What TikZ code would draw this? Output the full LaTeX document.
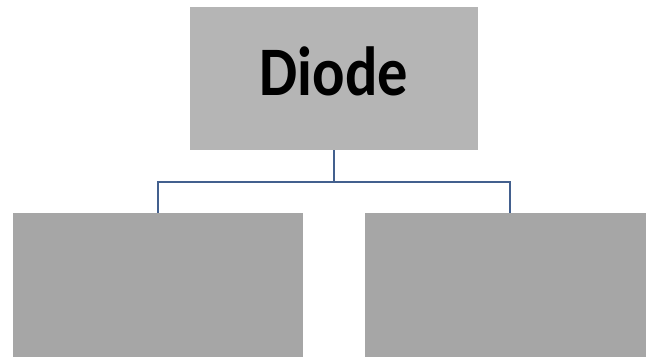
\documentclass[tikz,border=0pt]{standalone}
\usepackage{fontspec}
\setmainfont{Carlito}
\definecolor{topgray}{HTML}{B5B5B5}
\definecolor{subgray}{HTML}{A6A6A6}
\definecolor{linkblue}{HTML}{43608E}
\begin{document}
\begin{tikzpicture}[x=0.025cm,y=-0.025cm,
    box/.style={inner sep=0pt,minimum width=7.25cm,minimum height=3.75cm,fill=subgray},
    link/.style={draw=linkblue,line width=1.5pt}]
    \clip (0,0) rectangle (646,356);
    \fill[white] (0,0) rectangle (646,356);
    % top box and the two empty boxes below it
    \node[box,fill=topgray,minimum width=7.2cm,minimum height=3.575cm] (diode) at (334,78.5)
        {\raisebox{0.35cm}{\scalebox{1}[1.15]{\fontsize{43}{48}\selectfont\bfseries Diode}}};
    \node[box] (left) at (158,288) {};
    \node[box] (right) at (510,288) {};
    \draw[link] (diode.south) -- ++(0,32) coordinate (fork);
    \draw[link] (left.north) |- (fork) -| (right.north);
\end{tikzpicture}
\end{document}
